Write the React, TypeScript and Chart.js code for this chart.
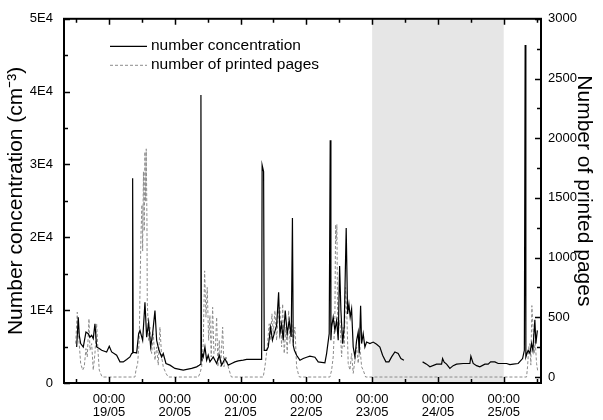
import { useEffect, useRef } from 'react';
import { Chart, registerables } from 'chart.js';

Chart.register(...registerables);

const FONT = "'Liberation Sans', Arial, sans-serif";

// hours since 19/05 00:00
const concHours = [
  -11.78, -11.2, -10.83, -10.32, -9.37, -8.39, -7.55, -6.93, -6.31, -5.73, -5.11, -4.49, -3.54, -2.66, -0.84, 0.11, 0.98,
  2.81, 4.01, 5.22, 6.46, 7.66, 8.28, 8.57, 8.64, 8.86, 10.1, 10.83, 11.31, 12.29, 13.13, 13.75, 14.48, 15.21, 15.94,
  16.78, 17.4, 18.24, 19.22, 19.8, 20.79, 22.25, 24.07, 27.1, 30.16, 31.98, 32.93, 33.48, 33.55, 33.73, 33.92, 34.39,
  35.01, 35.63, 36.21, 36.83, 38.04, 39.28, 40.23, 41.1, 42.3, 43.51, 44.75, 45.95, 47.16, 48.98, 50.22, 53.25, 55.69,
  55.87, 56.41, 56.64, 57.51, 58.1, 58.97, 59.63, 60.28, 61.16, 61.89, 62.36, 62.98, 63.57, 64.3, 65.03, 65.76, 66.49,
  66.93, 67.22, 67.65, 68.45, 69.66, 70.86, 72.1, 73.3, 75.13, 76.33, 78.77, 79.39, 80.34, 80.71, 80.96, 81.22, 81.8,
  82.42, 83.04, 83.63, 84.14, 84.61, 85.23, 85.81, 86.54, 87.05, 87.53, 88.0, 88.51, 89.1, 89.72, 90.34, 90.92, 91.29,
  91.8, 92.16, 92.74, 93.36, 93.98, 95.19, 96.39, 97.63, 98.83, 99.82, 101.02, 102.12, 103.1, 104.3, 105.5, 106.49,
  107.59, 111, 114.41, 115.86, 117.07, 119.51, 121.34, 121.7, 122.28, 123.16, 124.36, 125.56, 126.8, 129.21, 131.66,
  132.02, 132.86, 134.1, 135.3, 137.13, 138.33, 139.21, 140.78, 141.98, 145.04, 146.25, 147.45, 149.27, 150.88, 151.53,
  151.82, 152.08, 152.63, 152.92, 153.54, 154.16, 154.63, 155.36, 155.73, 156.27,
];
const concValues = [
  4950, 9030, 6540, 5410, 4940, 6990, 6770, 6300, 6540, 6090, 8130, 4940, 4730, 4490, 4260, 5040, 4260,
  3810, 2900, 2900, 3230, 3580, 4040, 4090, 28100, 4220, 4130, 6770, 7220, 5860, 11070, 6300, 8350, 4940, 6810,
  9940, 5860, 4490, 3580, 4040, 2680, 2450, 2000, 1770, 2000, 2220, 2450, 2590, 39540, 3130, 4040, 3580,
  4940, 3130, 3810, 2900, 3580, 2680, 3810, 2450, 3360, 2450, 2680, 2900, 3040, 3130, 3230, 3230, 3230,
  29920, 29010, 4490, 4490, 4940, 7670, 5860, 6770, 7900, 12440, 6770, 8130, 5860, 9940, 6770, 8580, 6300,
  22650, 5180, 4490, 3810, 3130, 3360, 3540, 3680, 3540, 2900, 2760, 4040, 6770, 33330, 5860, 7670, 9030,
  7220, 8580, 5860, 16070, 9940, 5410, 7670, 21290, 9490, 10850, 9030, 10170, 4940, 3580, 5860, 6990, 4040,
  10620, 5410, 6770, 4940, 5620, 5410, 5620, 5310, 4940, 3810, 2900, 2900, 3580, 4260, 4040, 3360,
  3130, null, 2900, 2590, 2220, 2590, 2590, 3360, 2860, 2590, 2000, 2380, 2590, 2680, 2680,
  3680, 2680, 2380, 2220, 2590, 2590, 2900, 2900, 2680, 2680, 2520, 2590, 2680, 3360, 4490,
  46400, 3580, 4220, 4490, 4090, 5410, 4490, 8680, 5410, 7220,
];

const pagesHours = [
  -12.14, -11.56, -10.94, -10.32, -9.59, -9.01, -8.39, -7.91, -7.29, -6.93, -6.31, -5.73, -5.11, -4.49, -4.01, -3.54,
  -2.66, -2.37, 9.48, 9.85, 10.47, 11.05, 11.31, 11.67, 12.04, 12.29, 12.58, 12.87, 13.13, 13.38, 13.6, 13.86, 13.97,
  14.48, 14.95, 15.57, 16.16, 16.78, 17.4, 17.98, 18.6, 19.22, 19.8, 20.79, 21.63, 32.57, 33.19, 33.81, 34.39, 34.9,
  35.38, 35.85, 36.36, 36.83, 37.31, 37.82, 38.29, 38.77, 39.28, 39.75, 40.23, 40.74, 41.47, 41.94, 42.67, 43.51,
  44.38, 44.68, 56.27, 56.89, 57.62, 58.46, 58.97, 59.45, 59.92, 60.54, 61.16, 61.74, 62.36, 62.98, 63.35, 63.93,
  64.55, 65.03, 65.54, 66.01, 66.63, 67.21, 67.83, 68.45, 69.18, 69.48, 80.6, 81.22, 81.8, 82.42, 82.68, 82.9, 83.15,
  83.41, 83.63, 84.25, 84.86, 85.45, 85.81, 86.32, 86.8, 87.27, 87.89, 88.51, 89.1, 89.72, 90.34, 90.92, 91.54, 92.16,
  92.74, 93.62, 152.33, 152.69, 152.92, 153.17, 153.54, 153.9, 154.27, 154.74, 155.11, 155.47, 155.98, 156.46,
];
const pagesValues = [
  280, 543, 307, 114, 58, 86, 238, 168, 488, 224, 280, 58, 197, 446, 224, 58,
  8, 0, 0, 58, 114, 307, 695, 1194, 1443, 1055, 1720, 1222, 1886, 1471, 1911, 1305, 640,
  307, 418, 197, 363, 141, 252, 100, 418, 168, 86, 31, 0, 0, 31, 86, 280, 889,
  501, 750, 307, 515, 168, 584, 197, 224, 501, 86, 307, 86, 418, 86, 168, 86,
  17, 0, 0, 86, 224, 446, 307, 529, 363, 557, 307, 529, 584, 252, 612, 197,
  418, 197, 557, 280, 474, 280, 418, 86, 17, 0, 0, 58, 168, 501, 1277, 1138, 1277,
  474, 363, 474, 168, 418, 252, 750, 501, 114, 58, 197, 31, 141, 252, 114, 252, 86,
  58, 0, 0, 86, 168, 252, 280, 100, 598, 390, 197, 307, 114, 42,
];

const dayLabels = ['19/05', '20/05', '21/05', '22/05', '23/05', '24/05', '25/05'];
const timeLabel = '00:00';
const leftTickValues = [0, 10000, 20000, 30000, 40000, 50000];
const leftTickLabels = ['0', '1E4', '2E4', '3E4', '4E4', '5E4'];
const rightTickValues = [0, 500, 1000, 1500, 2000, 2500, 3000];
const shadedHours = [96, 144];
const seriesLabels = ['number concentration', 'number of printed pages'];
const leftTitle = 'Number concentration (cm\u207B\u00B3)';
const rightTitle = 'Number of printed pages';

const framePlugin = {
  id: 'frame',
  beforeDatasetsDraw(chart: any) {
    const { ctx, chartArea: a, scales } = chart;
    const x = scales.x;
    const x0 = x.getPixelForValue(shadedHours[0]);
    const x1 = x.getPixelForValue(shadedHours[1]);
    ctx.save();
    ctx.fillStyle = '#e6e6e6';
    ctx.fillRect(x0, a.top, x1 - x0, a.bottom - a.top);
    ctx.restore();
  },
  afterDatasetsDraw(chart: any) {
    const { ctx, chartArea: a, scales } = chart;
    const { x, y, y2 } = scales;
    ctx.save();
    ctx.strokeStyle = '#000';
    ctx.lineWidth = 1.5;
    const MAJ = 6;
    const MIN = 4;
    ctx.beginPath();
    for (let v = Math.ceil(x.min / 12) * 12; v <= x.max; v += 12) {
      const px = Math.round(x.getPixelForValue(v)) + 0.5;
      const len = v % 24 === 0 ? MAJ : MIN;
      ctx.moveTo(px, a.bottom);
      ctx.lineTo(px, a.bottom - len);
      ctx.moveTo(px, a.top);
      ctx.lineTo(px, a.top + len);
    }
    for (let v = 0; v <= y.max; v += 5000) {
      const py = Math.round(y.getPixelForValue(v)) + 0.5;
      const len = v % 10000 === 0 ? MAJ : MIN;
      ctx.moveTo(a.left, py);
      ctx.lineTo(a.left + len, py);
    }
    for (let v = 0; v <= y2.max; v += 250) {
      const py = Math.round(y2.getPixelForValue(v)) + 0.5;
      const len = v % 500 === 0 ? MAJ : MIN;
      ctx.moveTo(a.right, py);
      ctx.lineTo(a.right - len, py);
    }
    ctx.stroke();
    ctx.lineWidth = 2;
    ctx.strokeRect(a.left, a.top, a.right - a.left, a.bottom - a.top);

    // legend
    const ds = chart.data.datasets;
    const lx0 = a.left + 46;
    const lx1 = a.left + 83;
    const tx = a.left + 87;
    const rows = [a.top + 27, a.top + 46];
    ctx.font = `15.5px ${FONT}`;
    ctx.textBaseline = 'middle';
    ctx.textAlign = 'left';
    ds.forEach((d: any, i: number) => {
      const ry = rows[i];
      ctx.beginPath();
      ctx.strokeStyle = d.borderColor;
      ctx.lineWidth = d.borderWidth;
      ctx.setLineDash(d.borderDash || []);
      ctx.moveTo(lx0, ry + 0.5);
      ctx.lineTo(lx1, ry + 0.5);
      ctx.stroke();
      ctx.setLineDash([]);
      ctx.fillStyle = '#000';
      ctx.fillText(d.label, tx, ry);
    });

    // right axis title
    ctx.translate(y2.right - 19, (a.top + a.bottom) / 2 - 10);
    ctx.rotate(Math.PI / 2);
    ctx.font = `21px ${FONT}`;
    ctx.textAlign = 'center';
    ctx.textBaseline = 'middle';
    ctx.fillStyle = '#000';
    ctx.fillText(rightTitle, 0, 0);
    ctx.restore();
  },
};

export default function App() {
  const ref = useRef<HTMLCanvasElement>(null);
  useEffect(() => {
    const canvas = ref.current;
    if (!canvas) return;
    const chart = new Chart(canvas, {
      type: 'line',
      data: {
        datasets: [
          {
            label: seriesLabels[0],
            data: concHours.map((h, i) => ({ x: h, y: concValues[i] })) as any,
            yAxisID: 'y',
            borderColor: '#000000',
            borderWidth: 1.2,
            pointRadius: 0,
            fill: false,
            spanGaps: false,
            tension: 0,
          },
          {
            label: seriesLabels[1],
            data: pagesHours.map((h, i) => ({ x: h, y: pagesValues[i] })) as any,
            yAxisID: 'y2',
            borderColor: '#8c8c8c',
            borderWidth: 1,
            borderDash: [3, 2],
            pointRadius: 0,
            fill: false,
            tension: 0,
          },
        ],
      },
      options: {
        responsive: false,
        animation: false,
        devicePixelRatio: 1,
        events: [],
        layout: { padding: { top: 16, left: 0, right: 0, bottom: 0 } },
        plugins: { legend: { display: false }, tooltip: { enabled: false } },
        scales: {
          x: {
            type: 'linear',
            position: 'bottom',
            min: -16.4,
            max: 157.6,
            grid: { display: false, drawTicks: false },
            border: { display: false },
            afterBuildTicks: (s: any) => {
              s.ticks = dayLabels.map((_, i) => ({ value: i * 24 }));
            },
            ticks: {
              autoSkip: false,
              maxRotation: 0,
              minRotation: 0,
              padding: 9.5,
              color: '#000',
              font: { family: FONT, size: 13, lineHeight: 1 },
              callback: (v: any) => {
                const n = Math.round(Number(v) / 24);
                return [timeLabel, dayLabels[n]];
              },
            },
            afterFit: (s: any) => {
              s.height = 37;
            },
          },
          y: {
            position: 'left',
            min: 0,
            max: 50000,
            grid: { display: false, drawTicks: false },
            border: { display: false },
            afterBuildTicks: (s: any) => {
              s.ticks = leftTickValues.map((v) => ({ value: v }));
            },
            ticks: {
              padding: 11,
              color: '#000',
              font: { family: FONT, size: 13 },
              callback: (v: any) => leftTickLabels[leftTickValues.indexOf(Number(v))],
            },
            title: {
              display: true,
              text: leftTitle,
              color: '#000',
              font: { family: FONT, size: 21, lineHeight: 1.2 },
              padding: { top: 4, bottom: 0 },
            },
            afterFit: (s: any) => {
              s.width = 64;
            },
          },
          y2: {
            position: 'right',
            min: -50,
            max: 3000,
            grid: { display: false, drawTicks: false },
            border: { display: false },
            afterBuildTicks: (s: any) => {
              s.ticks = rightTickValues.map((v) => ({ value: v }));
            },
            ticks: {
              padding: 7,
              color: '#000',
              font: { family: FONT, size: 13 },
              callback: (v: any) => String(v),
            },
            title: { display: false, text: rightTitle },
            afterFit: (s: any) => {
              s.width = 62;
            },
          },
        },
      },
      plugins: [framePlugin],
    });
    return () => chart.destroy();
  }, []);
  return (
    <div style={{ position: 'fixed', left: 0, top: 0, width: 603, height: 420, background: '#fff' }}>
      <canvas ref={ref} width={603} height={420} style={{ display: 'block' }} />
    </div>
  );
}
